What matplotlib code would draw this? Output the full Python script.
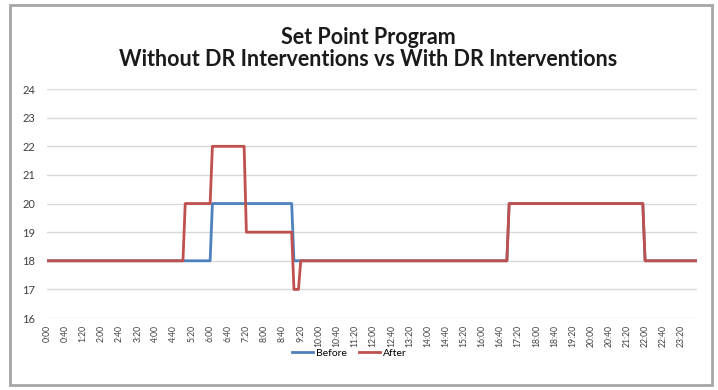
import matplotlib.pyplot as plt
from matplotlib.patches import Rectangle

plt.rcParams['font.family'] = ['Lato', 'DejaVu Sans']

# set point schedule, minutes after midnight (5 minute data)
before_min = [0, 360, 365, 540, 545, 1015, 1020, 1315, 1320, 1435]
before_val = [18, 18, 20, 20, 18, 18, 20, 20, 18, 18]
after_min = [0, 300, 305, 360, 365, 435, 440, 540, 545, 555, 560, 1015, 1020, 1315, 1320, 1435]
after_val = [18, 18, 20, 20, 22, 22, 19, 19, 17, 17, 18, 18, 20, 20, 18, 18]

tick_labels = ['0:00', '0:40', '1:20', '2:00', '2:40', '3:20', '4:00', '4:40', '5:20',
               '6:00', '6:40', '7:20', '8:00', '8:40', '9:20', '10:00', '10:40', '11:20',
               '12:00', '12:40', '13:20', '14:00', '14:40', '15:20', '16:00', '16:40',
               '17:20', '18:00', '18:40', '19:20', '20:00', '20:40', '21:20', '22:00',
               '22:40', '23:20']
tick_pos = [40 * i for i in range(len(tick_labels))]

fig = plt.figure(figsize=(7.18, 3.9), dpi=100)
ax = fig.add_axes([0.0655, 0.1846, 0.9055, 0.587])

ax.plot(before_min, before_val, color='#4F81BD', lw=2, label='Before')
ax.plot(after_min, after_val, color='#C0504D', lw=2, label='After')

ax.set_xlim(0, 1435)
ax.set_ylim(16, 24)
ax.set_yticks(range(16, 25))
ax.set_xticks(tick_pos)
ax.set_xticklabels(tick_labels, rotation=90, fontsize=6.2, color='#404040')
ax.tick_params(axis='y', labelsize=8, labelcolor='#404040', length=0, pad=8.5)
ax.tick_params(axis='x', length=0, pad=5)
ax.grid(axis='y', color='#D9D9D9', lw=1)
ax.set_axisbelow(True)
for s in ax.spines.values():
    s.set_visible(False)

fig.text(0.513, 0.903, 'Set Point Program', ha='center', va='center',
         fontsize=15.5, fontweight='bold', color='#1A1A1A')
fig.text(0.513, 0.848, 'Without DR Interventions vs With DR Interventions', ha='center',
         va='center', fontsize=15.5, fontweight='bold', color='#1A1A1A')

fig.legend(loc='center', bbox_to_anchor=(0.487, 0.094), ncol=2, frameon=False,
           fontsize=7.5, handlelength=2, columnspacing=1.2, handletextpad=0.3)

fig.patches.append(Rectangle((10 / 718, 5 / 390), 702 / 718, 380 / 390,
                             transform=fig.transFigure, fill=False,
                             edgecolor='#A6A6A6', lw=2))

fig.savefig('out.png', dpi=100)
